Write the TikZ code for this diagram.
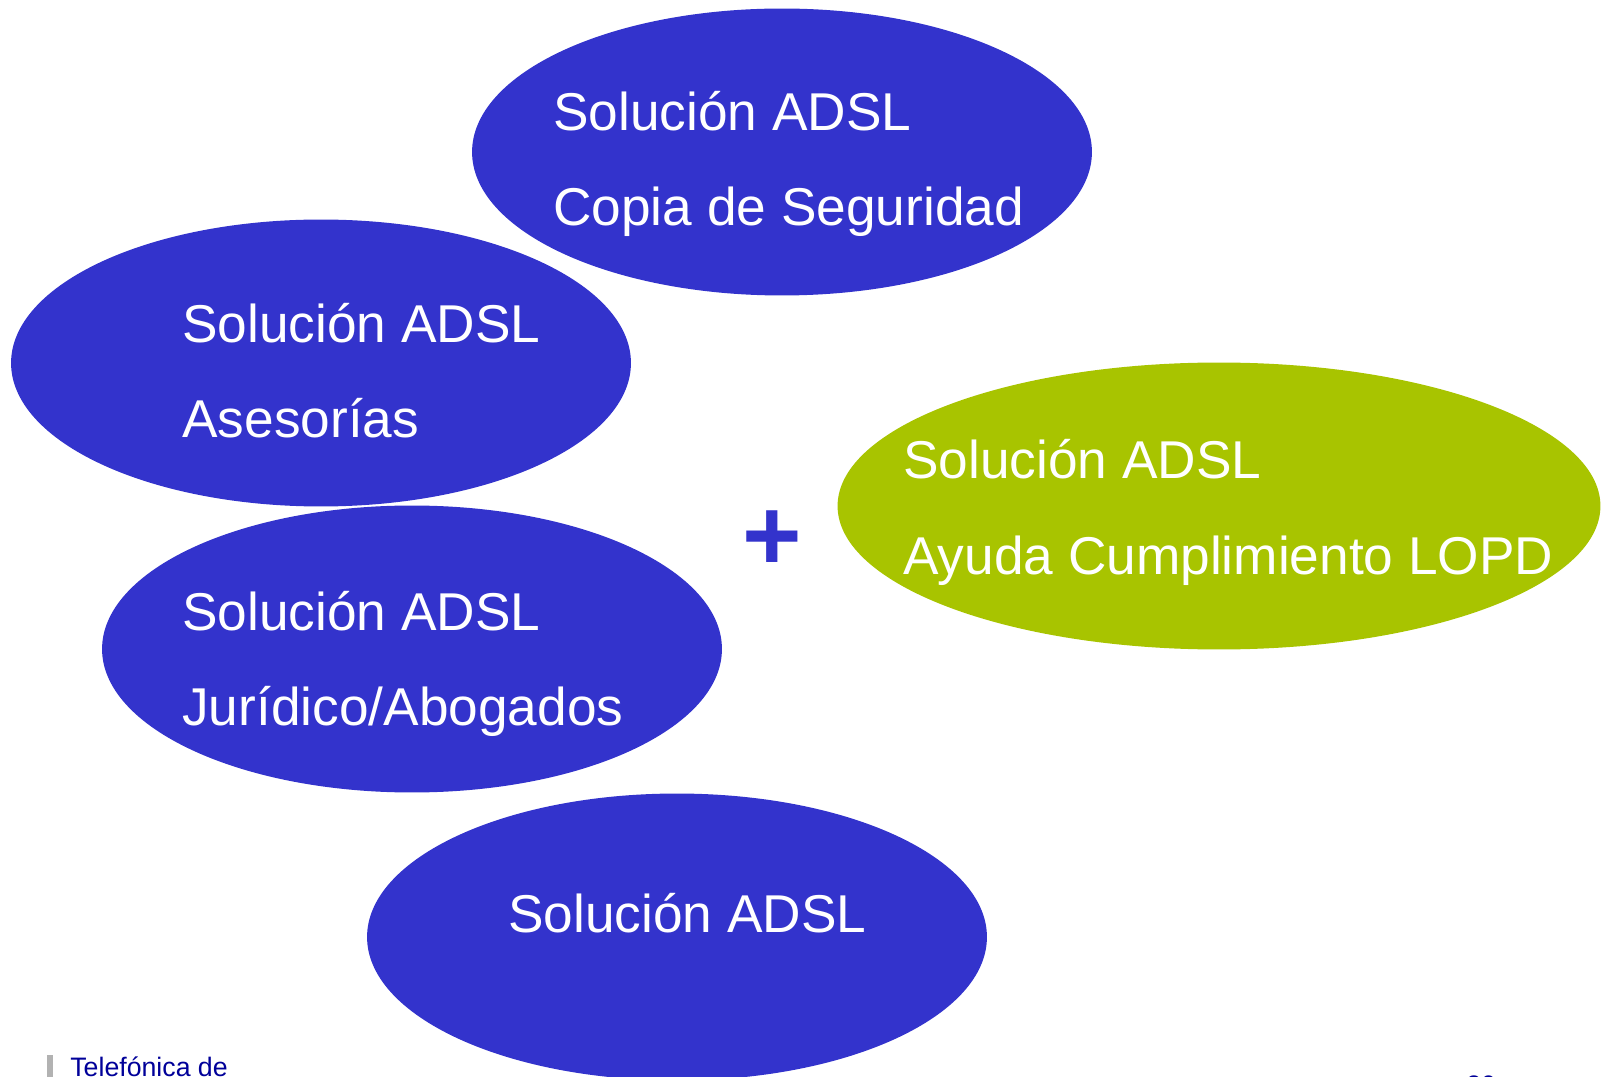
\documentclass[tikz,border=0pt]{standalone}
\usepackage{fontspec}
\setmainfont{Liberation Sans}
\usepackage{xcolor}
\usepackage{tikz}
\usetikzlibrary{shapes.geometric, positioning, calc}

\definecolor{adslblue}{HTML}{3333CC}
\definecolor{lopdgreen}{HTML}{A8C400}
\definecolor{footblue}{HTML}{000099}

\begin{document}
\begin{tikzpicture}[x=0.02cm, y=-0.02cm,
  blob/.style={ellipse, fill=adslblue, draw=none, minimum width=12.4cm, minimum height=5.74cm, inner sep=0pt},
  label/.style={anchor=base west, inner sep=0pt, text=white, font=\fontsize{30.3pt}{36pt}\selectfont},
  foot/.style={anchor=base west, inner sep=0pt, text=footblue, font=\fontsize{15.2pt}{18pt}\selectfont}]
\clip (0,0) rectangle (1606,1077);
\useasboundingbox (0,0) rectangle (1606,1077);

% Ellipses
\node[blob] (copia) at (782,152) {};
\node[blob] (asesor) at (321,363) {};
\node[blob] (jurid) at (412,649) {};
\node[blob] (base) at (677,937) {};
\node[blob, fill=lopdgreen, minimum width=15.26cm] (lopd) at (1219,506) {};

% Texts
\node[label] (copia1) at (553,131) {Solución ADSL};
\node[label] (copia2) at (553,226) {Copia de Seguridad};
\node[label] (asesor1) at (182,343) {Solución ADSL};
\node[label] (asesor2) at (182,438) {Asesorías};
\node[label] (jurid1) at (182,630) {Solución ADSL};
\node[label] (jurid2) at (182,725) {Jurídico/Abogados};
\node[label] (base1) at (508,932) {Solución ADSL};
\node[label] (lopd1) at (903,479) {Solución ADSL};
\node[label] (lopd2) at (903,575) {Ayuda Cumplimiento LOPD};

% Plus sign
\node[anchor=base, inner sep=0pt, text=adslblue, font=\fontsize{58pt}{60pt}\selectfont\bfseries] (plus) at (772,571) {+};

% Footer
\fill[gray!60] (47,1055) rectangle (53,1077);
\node[foot] (firma) at (70,1076) {Telefónica de};
\node[foot] (pagina) at (1466,1094) {20};
\end{tikzpicture}
\end{document}
